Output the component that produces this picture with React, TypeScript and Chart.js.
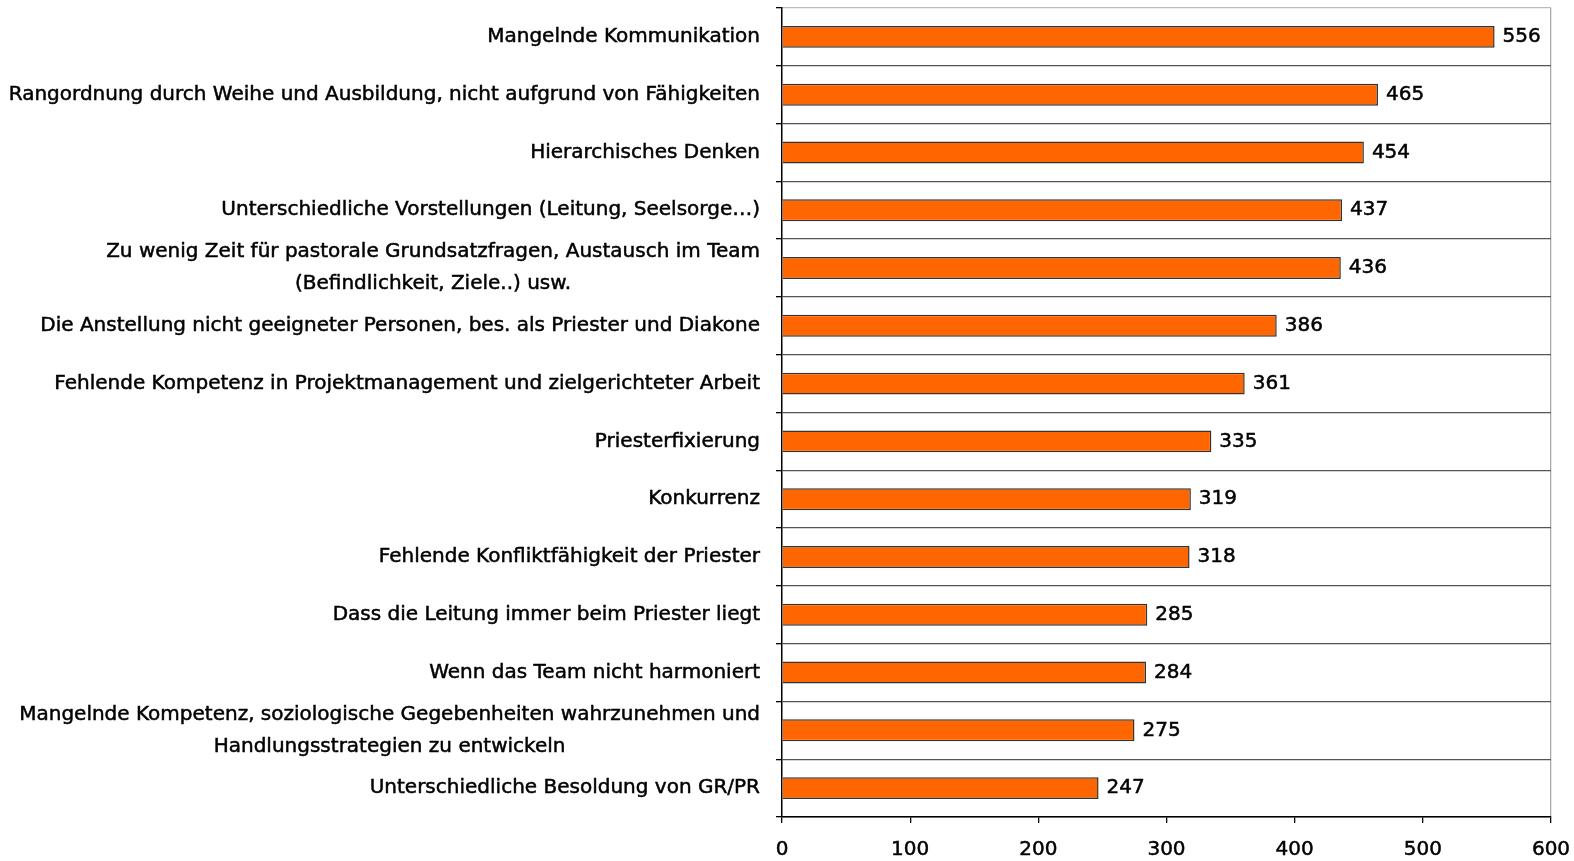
import React, { useEffect, useRef } from "react";
import { Chart, registerables } from "chart.js";

Chart.register(...registerables);

const categories: (string | string[])[] = [
  "Mangelnde Kommunikation",
  "Rangordnung durch Weihe und Ausbildung, nicht aufgrund von Fähigkeiten",
  "Hierarchisches Denken",
  "Unterschiedliche Vorstellungen (Leitung, Seelsorge…)",
  ["Zu wenig Zeit für pastorale Grundsatzfragen, Austausch im Team", "(Befindlichkeit, Ziele..) usw."],
  "Die Anstellung nicht geeigneter Personen, bes. als Priester und Diakone",
  "Fehlende Kompetenz in Projektmanagement und zielgerichteter Arbeit",
  "Priesterfixierung",
  "Konkurrenz",
  "Fehlende Konfliktfähigkeit der Priester",
  "Dass die Leitung immer beim Priester liegt",
  "Wenn das Team nicht harmoniert",
  ["Mangelnde Kompetenz, soziologische Gegebenheiten wahrzunehmen und", "Handlungsstrategien zu entwickeln"],
  "Unterschiedliche Besoldung von GR/PR",
];

const values: number[] = [556, 465, 454, 437, 436, 386, 361, 335, 319, 318, 285, 284, 275, 247];

const xTicks: number[] = [0, 100, 200, 300, 400, 500, 600];

const FONT = '"DejaVu Sans", sans-serif';

const labelPlugin = {
  id: "customLabels",
  afterDraw(chart: any) {
    const ctx = chart.ctx;
    const yScale = chart.scales.y;
    const meta = chart.getDatasetMeta(0);
    ctx.save();
    ctx.fillStyle = "#000";
    ctx.strokeStyle = "#000";
    ctx.lineWidth = 0.5;
    ctx.font = `20px ${FONT}`;
    ctx.textBaseline = "middle";
    const rightX = chart.chartArea.left - 22;
    categories.forEach((cat, i) => {
      const y = yScale.getPixelForTick(i);
      const lines = Array.isArray(cat) ? cat : [cat];
      const widths = lines.map((l) => ctx.measureText(l).width);
      const maxW = Math.max(...widths);
      const lh = 32;
      const startY = y - ((lines.length - 1) * lh) / 2;
      lines.forEach((l, j) => {
        ctx.textAlign = "center";
        ctx.fillText(l, rightX - maxW / 2, startY + j * lh);
        ctx.strokeText(l, rightX - maxW / 2, startY + j * lh);
      });
    });
    ctx.textAlign = "left";
    meta.data.forEach((bar: any, i: number) => {
      ctx.fillText(String(values[i]), bar.x + 8, bar.y);
      ctx.strokeText(String(values[i]), bar.x + 8, bar.y);
    });
    ctx.restore();
  },
};

export default function App() {
  const ref = useRef<HTMLCanvasElement>(null);

  useEffect(() => {
    if (!ref.current) return;
    const chart = new Chart(ref.current, {
      type: "bar",
      data: {
        labels: categories.map((c) => (Array.isArray(c) ? c.join(" ") : c)),
        datasets: [
          {
            data: values,
            backgroundColor: "#FF6600",
            borderColor: "#333333",
            borderWidth: 1.5,
            barPercentage: 0.38,
            categoryPercentage: 1,
          },
        ],
      },
      options: {
        indexAxis: "y",
        animation: false,
        responsive: true,
        maintainAspectRatio: false,
        layout: { padding: { top: 8, right: 23, bottom: 0, left: 0 } },
        plugins: {
          legend: { display: false },
          tooltip: { enabled: false },
        },
        scales: {
          x: {
            min: 0,
            max: 600,
            afterFit: (s: any) => {
              s.height = 44;
              s.paddingLeft = 0;
              s.paddingRight = 0;
            },
            afterBuildTicks: (s: any) => {
              s.ticks = xTicks.map((v) => ({ value: v }));
            },
            ticks: {
              color: "#000",
              font: { family: FONT, size: 20 },
              padding: 15,
              maxRotation: 0,
              textStrokeColor: "#000",
              textStrokeWidth: 0.5,
            },
            grid: {
              color: (c: any) => (c.index === xTicks.length - 1 ? "#aaaaaa" : "rgba(0,0,0,0)"),
              tickColor: "#000",
              tickLength: 6,
              lineWidth: 1.3,
            },
            border: { color: "#000", width: 1.5 },
          },
          y: {
            afterFit: (s: any) => {
              s.width = 782;
            },
            ticks: { display: false },
            grid: {
              offset: true,
              color: (c: any) => (c.index === 0 ? "#bbbbbb" : "#555555"),
              tickColor: "#000",
              tickLength: 6,
              lineWidth: 1.3,
              drawTicks: true,
            },
            border: { color: "#000", width: 1.5 },
          },
        },
      },
      plugins: [labelPlugin],
    });
    return () => chart.destroy();
  }, []);

  return (
    <div style={{ position: "fixed", left: 0, top: 0, width: 1574, height: 861, background: "#fff" }}>
      <canvas ref={ref} />
    </div>
  );
}
